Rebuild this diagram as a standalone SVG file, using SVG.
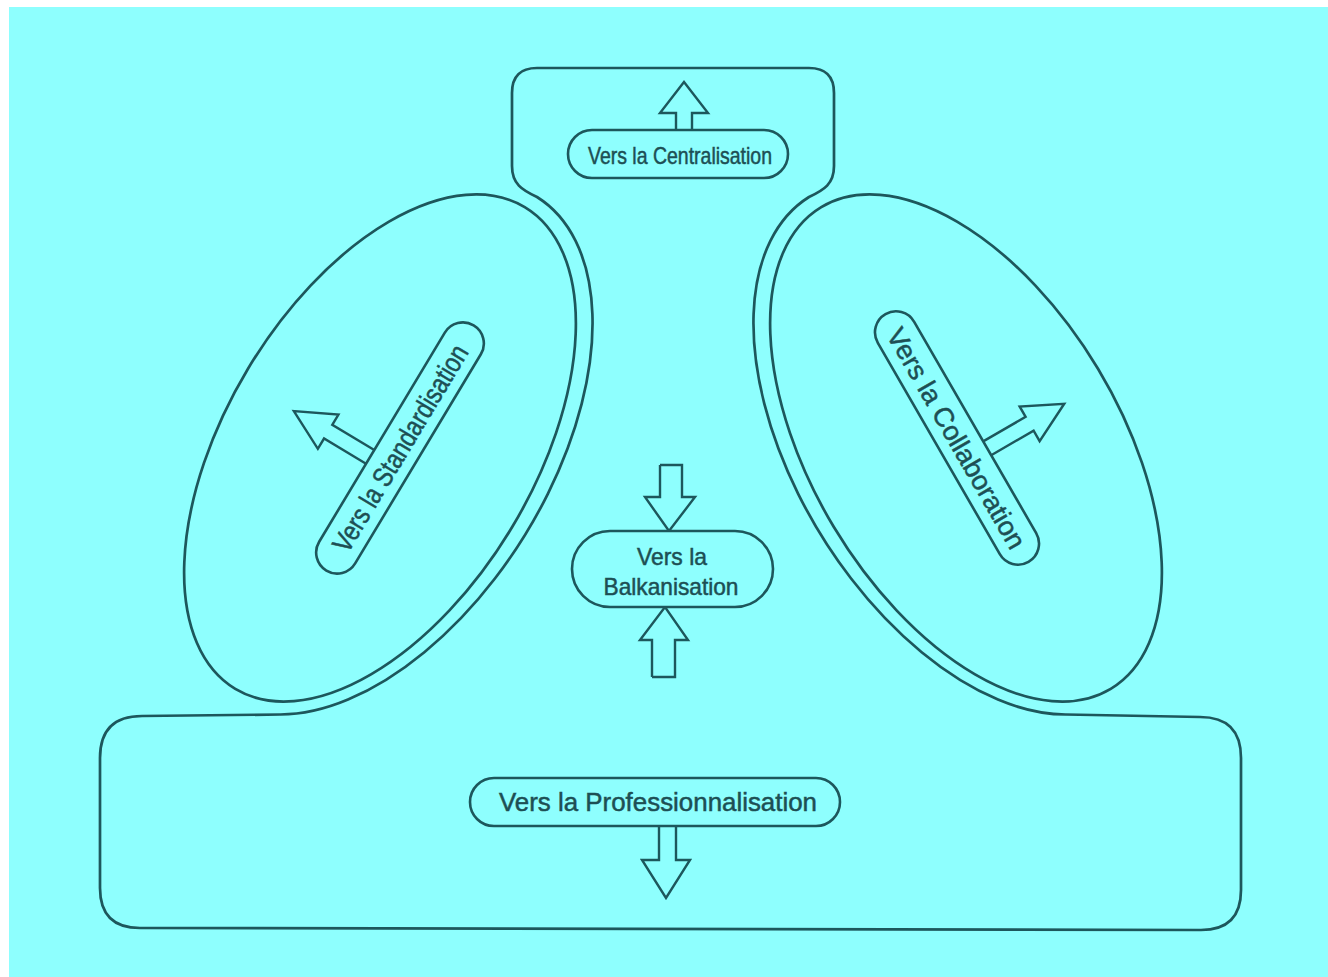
<svg xmlns="http://www.w3.org/2000/svg" width="1328" height="977" viewBox="0 0 1328 977">
<style>
.ln{fill:none;stroke:#1d575c;stroke-width:2.7;stroke-linejoin:round;stroke-linecap:round}
.pill{fill:#8efffe;stroke:#1d575c;stroke-width:2.6}
.arr{fill:#8efffe;stroke:#1d575c;stroke-width:2.4;stroke-linejoin:miter}
.t{font-family:"Liberation Sans",Arial,sans-serif;fill:#1d4f54;text-anchor:middle;stroke:#1d4f54;stroke-width:0.5}
</style>
<rect x="0" y="0" width="1328" height="977" fill="#ffffff"/>
<rect x="9" y="7" width="1319" height="970" fill="#8efffe"/>
<g id="frame">
<path class="ln" d="M 512,93 L 512,166 C 512,184 522,190 537,197 A 296 169 -58 0 1 280,714.5 L 142,716 Q 100,716 100,758 L 100,888 Q 100,928 140,928 L 1201,930 Q 1241,930 1241,890 L 1241,758 Q 1241,717 1200,717 L 1066,714.5 A 296 169 58 0 1 809,197 C 824,190 834,184 834,166 L 834,93 Q 834,68 809,68 L 537,68 Q 512,68 512,93 Z"/>
</g>
<g id="ellipse-left">
<ellipse class="ln" cx="380" cy="448" rx="281" ry="154" transform="rotate(-59 380 448)"/>
</g>
<g id="ellipse-right">
<ellipse class="ln" cx="966" cy="448" rx="281" ry="154" transform="rotate(59 966 448)"/>
</g>
<g id="arrows">
<polyline class="arr" points="676,130 676,113 660,113 684,82 708,113 692,113 692,130"/>
<polyline class="arr" points="660,465 660,497 645,497 669,531 695,497 682,497 682,465 660,465"/>
<polyline class="arr" points="652,677 652,640 640,640 665,607 688,640 675,640 675,677 652,677"/>
<polyline class="arr" points="659,826 659,860 642,860 666,898 690,860 676,860 676,826"/>
<g transform="translate(400,448) rotate(-59)">
<polyline class="arr" points="-31,-21 -31,-70 -43,-70 -23,-110 -3,-70 -15,-70 -15,-21"/>
</g>
<g transform="translate(957,438) rotate(60)">
<polyline class="arr" points="16,-21 16,-70 4,-70 24,-110 44,-70 32,-70 32,-21"/>
</g>
</g>
<g id="node-centralisation">
<rect class="pill" x="568" y="130" width="220" height="48" rx="24"/>
<text class="t" x="680" y="164" font-size="24" textLength="184" lengthAdjust="spacingAndGlyphs">Vers la Centralisation</text>
</g>
<g id="node-standardisation" transform="translate(400,448) rotate(-59)">
<rect class="pill" x="-143" y="-21" width="286" height="42" rx="21"/>
<text class="t" x="0" y="10" font-size="28" textLength="236" lengthAdjust="spacingAndGlyphs">Vers la Standardisation</text>
</g>
<g id="node-collaboration" transform="translate(957,438) rotate(60)">
<rect class="pill" x="-143" y="-21" width="286" height="42" rx="21"/>
<text class="t" x="0" y="10" font-size="27" textLength="250" lengthAdjust="spacingAndGlyphs">Vers la Collaboration</text>
</g>
<g id="node-balkanisation">
<rect class="pill" x="572" y="531" width="201" height="76" rx="38"/>
<text class="t" x="672" y="565" font-size="24" textLength="70" lengthAdjust="spacingAndGlyphs">Vers la</text>
<text class="t" x="671" y="595" font-size="24" textLength="135" lengthAdjust="spacingAndGlyphs">Balkanisation</text>
</g>
<g id="node-professionnalisation">
<rect class="pill" x="470" y="778" width="370" height="48" rx="24"/>
<text class="t" x="658" y="811" font-size="26" textLength="318" lengthAdjust="spacingAndGlyphs">Vers la Professionnalisation</text>
</g>
</svg>
